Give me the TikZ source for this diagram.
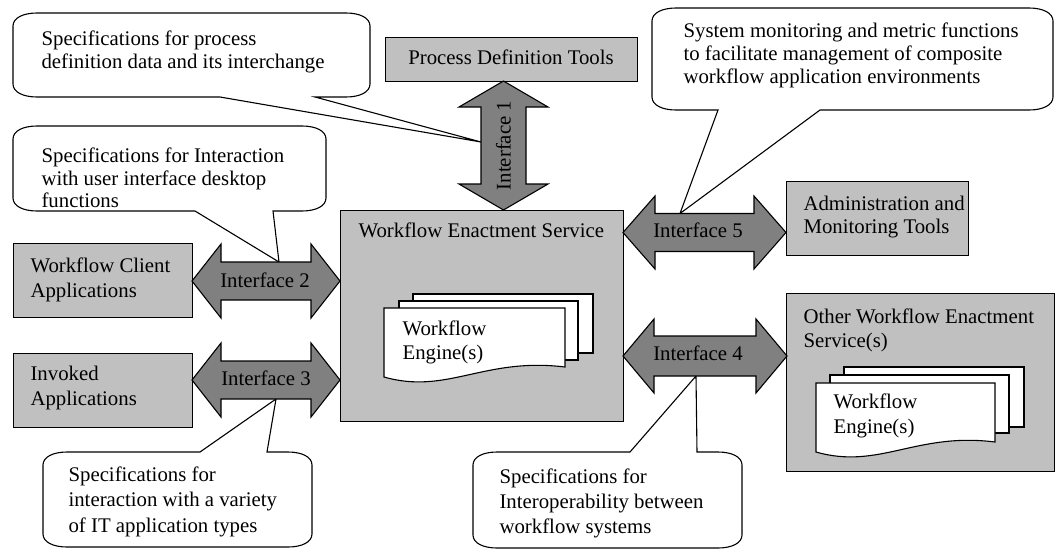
\documentclass[tikz,border=0pt]{standalone}
\usepackage{fontspec}
\setmainfont{Liberation Serif}
\definecolor{boxgray}{RGB}{192,192,192}
\definecolor{arrgray}{RGB}{128,128,128}
\newcommand\mlines[1]{\begin{tabular}[t]{@{}l@{}}#1\end{tabular}}
% callout with tail on the bottom edge: x1,y1,x2,y2,a,b,tip
\newcommand\calloutB[7]{%
\draw[callout] (#1,{#2+13}) .. controls (#1,{#2+5}) and ({#1+10},#2) .. ({#1+24},#2) -- ({#3-24},#2) .. controls ({#3-10},#2) and (#3,{#2+5}) .. (#3,{#2+13}) -- (#3,{#4-13}) .. controls (#3,{#4-5}) and ({#3-10},#4) .. ({#3-24},#4) -- (#6,#4) -- (#7) -- (#5,#4) -- ({#1+24},#4) .. controls ({#1+10},#4) and (#1,{#4-5}) .. (#1,{#4-13}) -- cycle;}
% callout with tail on the top edge
\newcommand\calloutT[7]{%
\draw[callout] (#1,{#2+13}) .. controls (#1,{#2+5}) and ({#1+10},#2) .. ({#1+24},#2) -- (#5,#2) -- (#7) -- (#6,#2) -- ({#3-24},#2) .. controls ({#3-10},#2) and (#3,{#2+5}) .. (#3,{#2+13}) -- (#3,{#4-13}) .. controls (#3,{#4-5}) and ({#3-10},#4) .. ({#3-24},#4) -- ({#1+24},#4) .. controls ({#1+10},#4) and (#1,{#4-5}) .. (#1,{#4-13}) -- cycle;}
% horizontal double arrow: xl,xr,c,head length,head half,shaft half
\newcommand\harrow[6]{%
\draw[arrowshape] (#1,#3) -- ({#1+#4},{#3-#5}) -- ({#1+#4},{#3-#6}) -- ({#2-#4},{#3-#6}) -- ({#2-#4},{#3-#5}) -- (#2,#3) -- ({#2-#4},{#3+#5}) -- ({#2-#4},{#3+#6}) -- ({#1+#4},{#3+#6}) -- ({#1+#4},{#3+#5}) -- cycle;}
\begin{document}
\begin{tikzpicture}[x=1pt,y=-1pt,line width=1.1pt,
 graybox/.style={draw,fill=boxgray,anchor=north west,inner sep=0pt},
 arrowshape/.style={draw,fill=arrgray,line join=miter},
 callout/.style={draw,fill=white,line join=miter},
 sheet/.style={draw,fill=white},
 txt/.style={anchor=base west,inner sep=0pt,font=\fontsize{20.8}{#1}\selectfont},
 txt/.default=23,
 lbl/.style={anchor=base,inner sep=0pt,font=\fontsize{20.8}{23}\selectfont}]
\path[fill=white,use as bounding box] (0,0) rectangle (1055,552);

% tips of the callouts on the interface arrows
\coordinate (c1tip) at (481,142);
\coordinate (c2tip) at (279,262);
\coordinate (c3tip) at (276,399);
\coordinate (c4tip) at (696,376);
\coordinate (c5tip) at (680,213.5);

% callouts
\calloutB{13}{13}{370}{97}{220}{315}{c1tip}
\calloutB{13}{126}{326}{211}{195}{273}{c2tip}
\calloutB{652}{8}{1053}{110}{718}{820}{c5tip}
\calloutT{43}{452}{312}{547}{200}{267}{c3tip}
\calloutT{473}{452}{742}{548}{630}{697}{c4tip}

% boxes
\node[graybox,minimum width=252,minimum height=44] (pdt) at (385,37) {};
\node[graybox,minimum width=179,minimum height=74] (wcl) at (13,243) {};
\node[graybox,minimum width=179,minimum height=74] (inv) at (13,353) {};
\node[graybox,minimum width=283,minimum height=211] (wes) at (340,210) {};
\node[graybox,minimum width=182,minimum height=74] (adm) at (786,181) {};
\node[graybox,minimum width=268,minimum height=178] (oth) at (786,293) {};

% interface arrows
\draw[arrowshape] (503.5,81) -- (548,107) -- (526,107) -- (526,184) -- (548,184) -- (503.5,210) -- (459,184) -- (481,184) -- (481,107) -- (459,107) -- cycle;
\harrow{192}{340}{281}{29}{37}{19}
\harrow{192}{340}{380}{29}{37}{19}
\harrow{623}{786}{232.5}{32}{36.5}{19}
\harrow{623}{787}{356}{31}{37}{20}

% workflow engine stacks
\draw[sheet] (413,294) rectangle (593,353);
\draw[sheet] (399,301) rectangle (578,360);
\draw[sheet] (384,308) -- (565,308) -- (565,367) .. controls (484,357) and (447,395) .. (384,377) -- cycle;
\draw[sheet] (844,367) rectangle (1024,427);
\draw[sheet] (830,375) rectangle (1009,433);
\draw[sheet] (816,383) -- (995,383) -- (995,442) .. controls (916,432) and (879,470) .. (816,452) -- cycle;

% texts
\node[txt] (c1t) at (41,45) {\mlines{Specifications for process\\definition data and its interchange}};
\node[txt=22.5] (c2t) at (41,162.5) {\mlines{Specifications for Interaction\\with user interface desktop\\functions}};
\node[txt] (c5t) at (683,37) {\mlines{System monitoring and metric functions\\to facilitate management of composite\\workflow application environments}};
\node[txt=25.5] (c3t) at (68,481) {\mlines{Specifications for\\interaction with a variety\\of IT application types}};
\node[txt=25] (c4t) at (499,483) {\mlines{Specifications for\\Interoperability between\\workflow systems}};
\node[lbl] (pdtt) at (511,64) {Process Definition Tools};
\node[txt=25] (wclt) at (30,272) {\mlines{Workflow Client\\Applications}};
\node[txt=25] (invt) at (30,380) {\mlines{Invoked\\Applications}};
\node[txt] (west) at (358,237) {Workflow Enactment Service};
\node[txt=24] (we1t) at (402,335) {\mlines{Workflow\\Engine(s)}};
\node[txt] (admt) at (803,210) {\mlines{Administration and\\Monitoring Tools}};
\node[txt=24] (otht) at (803,323) {\mlines{Other Workflow Enactment\\Service(s)}};
\node[txt=25] (we2t) at (833,408) {\mlines{Workflow\\Engine(s)}};
\node[inner sep=0pt,rotate=90,font=\fontsize{20.8}{23}\selectfont] (if1) at (503.5,145.5) {Interface 1};
\node[lbl] (if2) at (265,287) {Interface 2};
\node[lbl] (if3) at (266,385) {Interface 3};
\node[lbl] (if5) at (698,237) {Interface 5};
\node[lbl] (if4) at (698,360) {Interface 4};
\end{tikzpicture}
\end{document}
